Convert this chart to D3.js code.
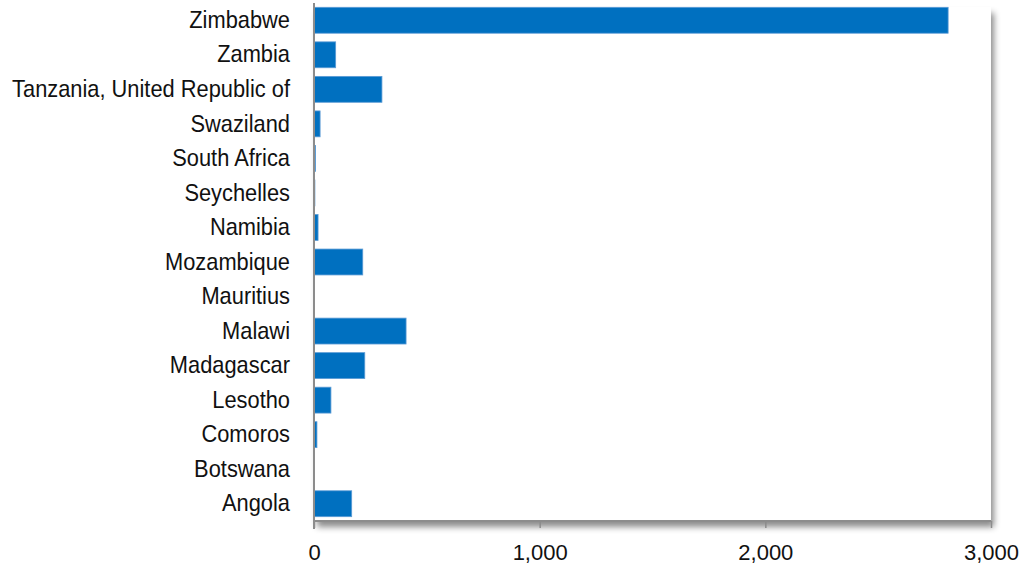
<!DOCTYPE html>
<html>
<head>
<meta charset="utf-8">
<script src="https://cdnjs.cloudflare.com/ajax/libs/d3/7.8.5/d3.min.js"></script>
<style>
  body { margin: 0; background: #fff; }
</style>
</head>
<body>
<svg id="chart" width="1026" height="569"></svg>
<script>
// countries, bottom to top as in the reference
let countries = ['Angola', 'Botswana', 'Comoros', 'Lesotho', 'Madagascar', 'Malawi', 'Mauritius',
  'Mozambique', 'Namibia', 'Seychelles', 'South Africa', 'Swaziland',
  'Tanzania, United Republic of', 'Zambia', 'Zimbabwe'];
let values = [167, 0, 13, 75, 225, 408, 0, 216, 18, 4, 7, 27, 301, 96, 2810];
let xTicks = [0, 1000, 2000, 3000];

let svg = d3.select('#chart');
let plotLeft = 314, plotRight = 991, plotTop = 3, plotBottom = 521;

let x = d3.scaleLinear().domain([0, 3000]).range([plotLeft, plotRight]);
let y = d3.scaleBand().domain(countries.slice().reverse()).range([plotTop, plotBottom]).paddingInner(0.25).paddingOuter(0.125);

// drop shadow under the plot area
let defs = svg.append('defs');
let filter = defs.append('filter').attr('id', 'shadow').attr('x', '-5%').attr('y', '-5%').attr('width', '115%').attr('height', '115%');
filter.append('feDropShadow').attr('dx', 3).attr('dy', 6).attr('stdDeviation', 3).attr('flood-color', '#000').attr('flood-opacity', 0.45);

svg.append('rect')
  .attr('x', plotLeft).attr('y', plotTop + 4)
  .attr('width', plotRight - plotLeft).attr('height', plotBottom - plotTop - 4)
  .attr('fill', '#fff')
  .attr('filter', 'url(#shadow)');

// bars
svg.selectAll('rect.bar')
  .data(countries)
  .enter().append('rect')
  .attr('class', 'bar')
  .attr('x', x(0))
  .attr('y', d => y(d))
  .attr('width', (d, i) => x(values[i]) - x(0))
  .attr('height', y.bandwidth())
  .attr('fill', '#0070c0')
  .attr('stroke', (d, i) => values[i] > 0 ? '#5b9bd5' : 'none')
  .attr('stroke-width', 0.8);

// bottom axis
let xAxis = d3.axisBottom(x).tickValues(xTicks).tickSize(7).tickFormat(d3.format(','));
let gx = svg.append('g').attr('transform', `translate(0,${plotBottom})`).call(xAxis);
gx.select('.domain').attr('stroke', '#8c8c8c').attr('stroke-width', 2).attr('d', `M${plotLeft},0H${plotRight}`);
gx.selectAll('.tick line').attr('stroke', '#8c8c8c').attr('stroke-width', 1.5);
gx.selectAll('.tick text').attr('y', 23).attr('dy', '0.71em')
  .style('font-family', '"Liberation Sans", Arial, sans-serif').style('font-size', '22px').attr('fill', '#111');

// left axis (labels squeezed horizontally to mimic a narrow face)
let yAxis = d3.axisLeft(y).tickSize(0).tickPadding(24);
let gy = svg.append('g').attr('transform', `translate(${plotLeft},0)`).call(yAxis);
gy.select('.domain').attr('stroke', '#8c8c8c').attr('stroke-width', 2).attr('d', `M0,${plotTop}V${plotBottom + 8}`);
gy.selectAll('.tick text')
  .attr('x', 0)
  .attr('transform', 'translate(-24,0) scale(0.91,1)')
  .style('font-family', '"Liberation Sans", Arial, sans-serif').style('font-size', '24px').attr('fill', '#111');
</script>
</body>
</html>
